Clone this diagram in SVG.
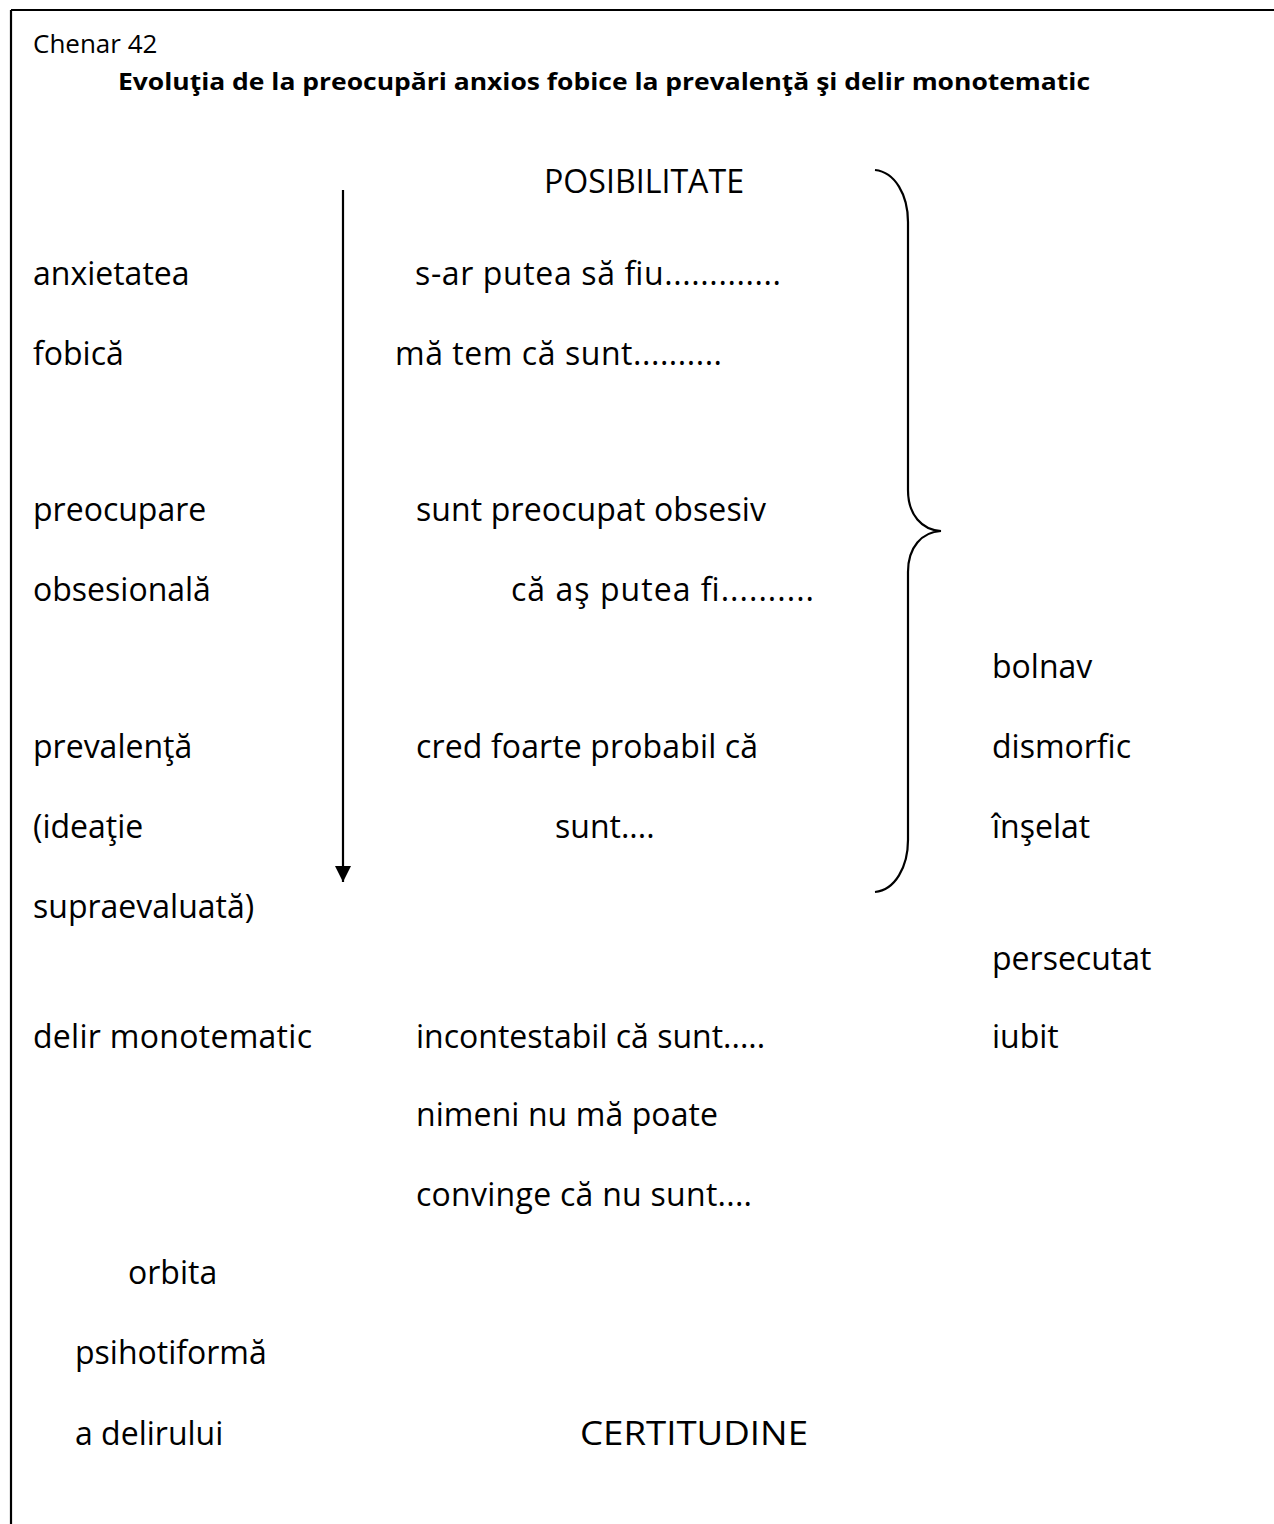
<svg xmlns="http://www.w3.org/2000/svg" width="1274" height="1524" viewBox="0 0 1274 1524">
  <defs>
    <style>
      .t { font-family: "Open Sans", "Noto Sans", "Liberation Sans", sans-serif; font-size: 32px; fill: #000; }
      .small { font-family: "Open Sans", "Noto Sans", "Liberation Sans", sans-serif; font-size: 26px; fill: #000; }
      .title { font-family: "Open Sans", "Noto Sans", "Liberation Sans", sans-serif; font-size: 24px; font-weight: bold; fill: #000; }
      .line { stroke: #000; stroke-width: 2.2; fill: none; }
    </style>
    <marker id="head" viewBox="0 0 16 16" refX="16" refY="8" markerWidth="16" markerHeight="16" markerUnits="userSpaceOnUse" orient="auto">
      <path d="M0,0 L16,8 L0,16 Z" fill="#000"/>
    </marker>
  </defs>

  <rect width="1274" height="1524" fill="#fff"/>

  <!-- frame: top and left edges -->
  <g id="frame">
    <line class="line" x1="11" y1="10" x2="1274" y2="10" stroke-width="2.6"/>
    <line class="line" x1="11" y1="10" x2="11" y2="1524" stroke-width="2.6"/>
  </g>

  <g id="header">
    <text class="small" x="33" y="53">Chenar 42</text>
    <text class="title" x="118" y="90" textLength="972" lengthAdjust="spacingAndGlyphs">Evoluţia de la preocupări anxios fobice la prevalenţă şi delir monotematic</text>
  </g>

  <!-- connectors: downward arrow and the right-hand brace -->
  <g id="connectors">
    <line class="line" x1="343" y1="190" x2="343" y2="882" marker-end="url(#head)"/>
    <path class="line" d="M875,170 C895,172 908,195 908,222 L908,490 C908,515 922,530 941,531 C922,532 908,547 908,572 L908,840 C908,867 895,890 875,892"/>
  </g>

  <g id="scale-top">
    <text class="t" x="544" y="193" textLength="200" lengthAdjust="spacingAndGlyphs">POSIBILITATE</text>
  </g>

  <g id="stages">
    <text class="t" x="33" y="285">anxietatea</text>
    <text class="t" x="33" y="365">fobică</text>
    <text class="t" x="33" y="521">preocupare</text>
    <text class="t" x="33" y="601">obsesională</text>
    <text class="t" x="33" y="758">prevalenţă</text>
    <text class="t" x="33" y="838">(ideaţie</text>
    <text class="t" x="33" y="918">supraevaluată)</text>
    <text class="t" x="33" y="1048" textLength="279">delir monotematic</text>
  </g>

  <g id="statements">
    <text class="t" x="415" y="285" textLength="366">s-ar putea să fiu.............</text>
    <text class="t" x="395" y="365" textLength="327">mă tem că sunt..........</text>
    <text class="t" x="416" y="521" textLength="350">sunt preocupat obsesiv</text>
    <text class="t" x="511" y="601" textLength="303">că aş putea fi..........</text>
    <text class="t" x="416" y="758" textLength="342">cred foarte probabil că</text>
    <text class="t" x="555" y="838">sunt....</text>
    <text class="t" x="416" y="1048">incontestabil că sunt.....</text>
    <text class="t" x="416" y="1126" textLength="302">nimeni nu mă poate</text>
    <text class="t" x="416" y="1206" textLength="336">convinge că nu sunt....</text>
  </g>

  <g id="themes">
    <text class="t" x="992" y="678">bolnav</text>
    <text class="t" x="992" y="758">dismorfic</text>
    <text class="t" x="992" y="838">înşelat</text>
    <text class="t" x="992" y="970">persecutat</text>
    <text class="t" x="992" y="1048">iubit</text>
  </g>

  <g id="orbit">
    <text class="t" x="128" y="1284">orbita</text>
    <text class="t" x="75" y="1364">psihotiformă</text>
    <text class="t" x="75" y="1445">a delirului</text>
  </g>

  <g id="scale-bottom">
    <text class="t" x="580" y="1445" textLength="228" lengthAdjust="spacingAndGlyphs">CERTITUDINE</text>
  </g>
</svg>
